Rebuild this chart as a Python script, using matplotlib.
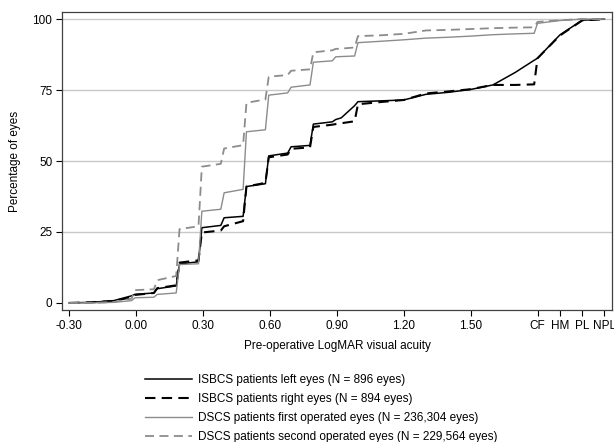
import matplotlib

matplotlib.use("Agg")
import matplotlib.pyplot as plt

# LogMAR grid (CF, HM, PL, NPL plotted at 1.8, 1.9, 2.0, 2.1)
logmar = [-0.30, -0.20, -0.10, -0.02, -0.005, 0.08, 0.095, 0.18, 0.195, 0.28, 0.295,
          0.38, 0.395, 0.48, 0.495, 0.58, 0.595, 0.68, 0.695, 0.78, 0.795, 0.88, 0.895,
          0.92, 0.98, 0.995, 1.10, 1.20, 1.30, 1.40, 1.50, 1.60, 1.70, 1.785, 1.80,
          1.90, 2.00, 2.10]

isbcs_left = [0, 0.2, 0.8, 2.5, 3.0, 3.5, 5.0, 6.0, 13.7, 14.5, 26.5,
              27.3, 30.0, 30.5, 41.0, 42.0, 51.8, 52.8, 55.0, 55.5, 63.0, 63.8, 64.6,
              65.2, 69.5, 70.9, 71.2, 71.5, 73.5, 74.2, 75.2, 76.8, 81.2, 85.5, 86.2,
              94.4, 99.6, 100]

isbcs_right = [0, 0.2, 0.7, 2.0, 2.8, 3.5, 5.2, 6.2, 14.2, 15.0, 24.8,
               25.5, 27.0, 28.8, 41.0, 42.3, 51.3, 52.3, 54.3, 54.8, 62.0, 62.8, 63.0,
               63.3, 64.0, 70.0, 70.8, 71.5, 73.8, 74.5, 75.3, 76.8, 76.8, 77.0, 86.2,
               94.2, 99.5, 100]

dscs_first = [0, 0, 0.2, 0.8, 1.8, 2.0, 3.0, 3.5, 13.5, 13.8, 32.3,
              33.0, 38.8, 40.0, 60.3, 61.0, 73.2, 74.0, 76.0, 76.8, 84.8, 85.3, 86.7,
              86.8, 87.0, 91.7, 92.2, 92.7, 93.3, 93.6, 94.0, 94.5, 94.8, 95.0, 98.5,
              99.5, 100, 100]

dscs_second = [0, 0, 0.3, 1.5, 4.5, 4.8, 8.0, 9.5, 26.0, 27.0, 48.0,
               49.0, 54.4, 55.6, 70.5, 71.7, 79.7, 80.3, 81.8, 82.3, 88.3, 89.0, 89.5,
               89.6, 90.0, 94.0, 94.3, 94.8, 96.0, 96.2, 96.5, 96.8, 97.0, 97.1, 99.0,
               99.6, 100, 100]

xtick_pos = [-0.3, 0.0, 0.3, 0.6, 0.9, 1.2, 1.5, 1.8, 1.9, 2.0, 2.1]
xtick_labels = ["-0.30", "0.00", "0.30", "0.60", "0.90", "1.20", "1.50",
                "CF", "HM", "PL", "NPL"]
ytick_pos = [0, 25, 50, 75, 100]

labels = [
    "ISBCS patients left eyes (N = 896 eyes)",
    "ISBCS patients right eyes (N = 894 eyes)",
    "DSCS patients first operated eyes (N = 236,304 eyes)",
    "DSCS patients second operated eyes (N = 229,564 eyes)",
]

plt.rcParams["font.family"] = ["Liberation Sans", "DejaVu Sans"]
plt.rcParams["font.size"] = 8.5

fig = plt.figure(figsize=(6.14, 4.42), dpi=100)
ax = fig.add_axes([62 / 614, 1 - 310 / 442, 550 / 614, 298 / 442])

for y in ytick_pos[1:]:
    ax.axhline(y, color="#c8c8c8", lw=1.0, zorder=0)

h1, = ax.plot(logmar, isbcs_left, color="black", lw=1.1, label=labels[0])
h2, = ax.plot(logmar, isbcs_right, color="black", lw=1.5, dashes=(5, 3), label=labels[1])
h3, = ax.plot(logmar, dscs_first, color="#8c8c8c", lw=1.0, label=labels[2])
h4, = ax.plot(logmar, dscs_second, color="#8c8c8c", lw=1.3, dashes=(5, 3), label=labels[3])

ax.set_xlim(-0.332, 2.134)
ax.set_ylim(-2.5, 102.5)
ax.set_xticks(xtick_pos)
ax.set_xticklabels(xtick_labels)
ax.set_yticks(ytick_pos)
ax.tick_params(direction="out", length=4, width=0.8, colors="black", labelsize=8.5, pad=3)
for s in ax.spines.values():
    s.set_color("#404040")
    s.set_linewidth(0.9)

ax.set_xlabel("Pre-operative LogMAR visual acuity", fontsize=8.5, labelpad=6)
ax.set_ylabel("Percentage of eyes", fontsize=8.5, labelpad=8)

fig.legend(handles=[h1, h2, h3, h4], loc="upper left", bbox_to_anchor=(140 / 614, 1 - 369 / 442),
           frameon=False, fontsize=8.5, handlelength=4.0, handletextpad=0.5,
           labelspacing=0.6, borderaxespad=0)

fig.savefig("out.png", dpi=100)
